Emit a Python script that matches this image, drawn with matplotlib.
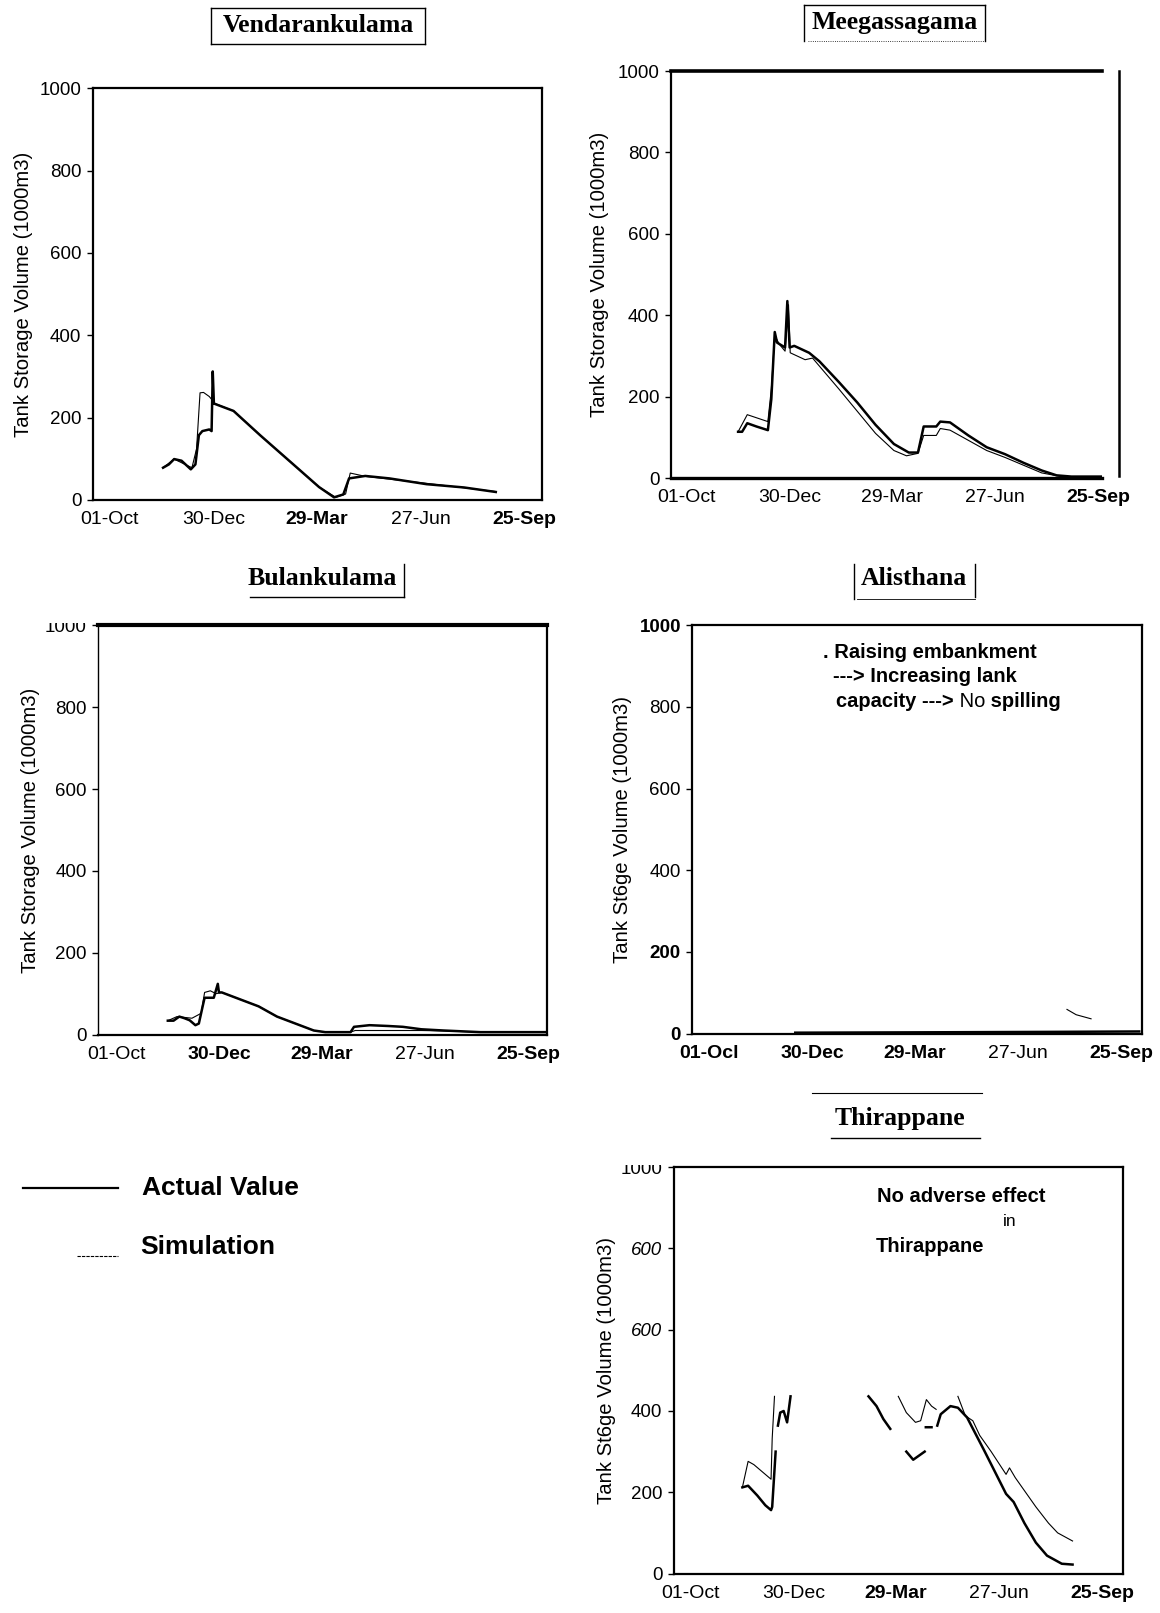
import numpy as np
import matplotlib.pyplot as plt
from matplotlib.lines import Line2D
from matplotlib.patches import Rectangle

plt.rcParams['font.family'] = ['Liberation Sans', 'DejaVu Sans']

W, H = 1160, 1613
nan = np.nan

date_ticks = [0, 90, 179, 269, 359]
date_labels = ['01-Oct', '30-Dec', '29-Mar', '27-Jun', '25-Sep']
vol_ticks = [0, 200, 400, 600, 800, 1000]

# Vendarankulama
vend_act_day = [46, 51, 55.6, 62, 70, 74, 77, 80, 86, 88, 89, 90, 107, 130, 162, 181, 194, 202, 207, 221, 242, 274, 306.5, 334]
vend_act_val = [78, 86, 99, 95, 74, 86, 157, 167, 171, 167, 312, 234, 216, 157, 78, 31, 6, 13, 52, 58, 52, 38, 30, 19]
vend_sim_day = [46, 55.6, 65, 71, 75, 78, 81, 86, 91, 107, 130, 162, 181, 195.5, 204, 208, 221, 274, 334]
vend_sim_val = [78, 99, 86, 78, 124, 260, 261, 251, 234, 216, 157, 78, 31, 6, 14, 65, 57, 40, 20]

# Meegassagama
meeg_act_day = [45, 48.5, 53, 61, 71, 74, 77, 79, 86, 88, 90, 94, 107, 116, 133, 149, 165, 181, 194, 202, 207, 218,
                221.5, 230, 246, 262, 278, 294, 310, 323, 336, 365]
meeg_act_val = [114, 114, 135, 127, 118, 194, 359, 333, 321, 435, 321, 325, 308, 287, 236, 186, 131, 84, 63, 63, 127, 127,
                139, 137, 105, 76, 59, 38, 19, 7, 4, 4]
meeg_sim_day = [45, 53, 71, 74, 77, 81, 86, 89, 90.5, 103.5, 110, 133, 165, 181, 192, 202, 207, 218, 221.5, 230, 262,
                278, 310, 327, 365]
meeg_sim_val = [114, 156, 139, 219, 350, 329, 312, 426, 308, 291, 295, 219, 110, 68, 55, 61, 105, 105, 122, 118, 68,
                51, 13, 4, 4]

# Bulankulama
bula_act_day = [45, 50, 55, 59.5, 64, 69, 72, 75, 77, 85, 88.5, 89.5, 92, 108, 124, 140, 156, 172, 182, 204, 207, 220.5,
                237, 249.5, 265.6, 285, 317, 375]
bula_act_val = [34, 34, 44, 40, 35, 23, 27, 65, 90, 90, 124, 103, 103, 86, 69, 44, 27, 10, 6, 6, 19, 23, 21, 19, 13, 10, 6, 6]
bula_sim_day = [45, 53, 66, 74, 77, 82, 87, 92, 108, 124, 140, 156, 172, 182, 204, 208, 220.5, 265.6, 285, 317, 375]
bula_sim_val = [34, 44, 40, 52, 103, 107, 100, 103, 86, 69, 44, 27, 10, 6, 6, 10, 10, 10, 9, 6, 6]

# Alisthana
alis_act_day = [75, 200, 300, 375]
alis_act_val = [2, 3, 4, 5]
alis_sim_day = [312, 320, 333]
alis_sim_val = [59, 46, 36]

# Thirappane (gaps where the scan lost the trace)
thir_act_day = [45, 50, 58, 65, 70, 71, 74, nan, 76, 78, 81, 84, 87, nan, 155, 162, 168, 174, nan, 188, 194, 204, nan,
                205, 210, nan, 215, 218, 226.5, 233, 241, 247.6, 255.7, 265, 275, 281.6, 291, 301, 310.7, 323.6, 333]
thir_act_val = [212, 216, 192, 168, 156, 164, 300, nan, 364, 396, 400, 372, 436, nan, 436, 412, 380, 356, nan, 300, 280, 300,
                nan, 360, 360, nan, 364, 392, 412, 408, 384, 348, 304, 252, 196, 176, 124, 76, 44, 24, 22]
thir_sim_day = [45, 50, 55, 65, 70, 71, 73, nan, 181, 188, 196, 200.5, 205.5, 210, 214, nan, 233, 239.5, 246, 252, 262,
                275, 278, 283, 291, 301, 312, 320, 333]
thir_sim_val = [212, 276, 268, 244, 232, 332, 436, nan, 436, 396, 372, 376, 428, 412, 404, nan, 436, 388, 376, 340, 300,
                244, 260, 236, 204, 164, 124, 100, 80]


def fx(px):
    return px / W


def fy(py):
    return 1 - py / H


def fline(fig, x0, y0, x1, y1, lw=1.0, ls='-'):
    fig.add_artist(Line2D([fx(x0), fx(x1)], [fy(y0), fy(y1)], transform=fig.transFigure,
                          color='black', lw=lw, ls=ls))


def make_panel(fig, box, act, sim, xlim, xlabels=date_labels, xweights=None,
               ylabels=None, yweights=None, ystyles=None, ylabel='Tank Storage Volume (1000m3)',
               ylab_x=-0.135, right_pos=None):
    left, top, right, bottom = box
    ax = fig.add_axes([fx(left), fy(bottom), (right - left) / W, (bottom - top) / H])
    # moving a spine resets the ticks, so do it before the labels
    if right_pos is not None:
        ax.spines['right'].set_position(('axes', right_pos))
    ax.plot(sim[0], sim[1], color='black', lw=0.8)
    ax.plot(act[0], act[1], color='black', lw=1.8)
    ax.set_xlim(*xlim)
    ax.set_ylim(0, 1000)
    ax.set_xticks(date_ticks)
    ax.set_xticklabels(xlabels, fontsize=14)
    ax.set_yticks(vol_ticks)
    ax.set_yticklabels(ylabels if ylabels else [str(v) for v in vol_ticks], fontsize=13.5)
    ax.tick_params(axis='x', length=0, pad=8)
    ax.tick_params(axis='y', length=4, width=1, pad=4)
    for t, w in zip(ax.get_xticklabels(), xweights or ['normal'] * 5):
        t.set_fontweight(w)
    for t, w in zip(ax.get_yticklabels(), yweights or ['normal'] * 6):
        t.set_fontweight(w)
    for t, s in zip(ax.get_yticklabels(), ystyles or ['normal'] * 6):
        t.set_fontstyle(s)
    for sp in ax.spines.values():
        sp.set_linewidth(1.6)
    ax.set_ylabel(ylabel, fontsize=14.6)
    ax.yaxis.set_label_coords(ylab_x, 0.5)
    return ax


fig = plt.figure(figsize=(W / 100, H / 100), dpi=100)
title_kw = dict(family='Liberation Serif', weight='bold', fontsize=18.5, ha='center', va='center')

# Vendarankulama
ax1 = make_panel(fig, (92.6, 88.4, 542, 499.8), (vend_act_day, vend_act_val), (vend_sim_day, vend_sim_val),
                 (-15, 374), xweights=['normal', 'normal', 'bold', 'normal', 'bold'], ylab_x=-0.133)
fig.text(fx(318), fy(26), 'Vendarankulama', **title_kw)
fline(fig, 211, 8, 425, 8)
fline(fig, 211, 44, 425, 44)
fline(fig, 211, 8, 211, 44)
fline(fig, 425, 8, 425, 44)

# Meegassagama
ax2 = make_panel(fig, (670.5, 71, 1102.4, 478.2), (meeg_act_day, meeg_act_val), (meeg_sim_day, meeg_sim_val),
                 (-14, 363), xweights=['normal'] * 4 + ['bold'], ylab_x=-0.142, right_pos=1.038)
ax2.spines['top'].set_linewidth(2.6)
ax2.spines['bottom'].set_linewidth(2.4)
ax2.spines['right'].set_bounds(5, 1000)
ax2.spines['right'].set_linewidth(1.8)
fig.text(fx(894.7), fy(23), 'Meegassagama', **title_kw)
fline(fig, 804, 5, 985, 5)
fline(fig, 804, 5, 804, 41)
fline(fig, 985, 5, 985, 41)
fline(fig, 808, 41, 985, 41, lw=0.6, ls=':')

# Bulankulama
ax3 = make_panel(fig, (97.7, 625.3, 547.1, 1034.6), (bula_act_day, bula_act_val), (bula_sim_day, bula_sim_val),
                 (-16, 375), xweights=['normal', 'bold', 'bold', 'normal', 'bold'], ylab_x=-0.128)
ax3.spines['top'].set_linewidth(3)
ax3.spines['left'].set_linewidth(1)
fig.add_artist(Rectangle((fx(35), fy(623)), (94 - 35) / W, 20 / H, transform=fig.transFigure,
                         facecolor='white', edgecolor='none', zorder=5))
fig.text(fx(322), fy(579), 'Bulankulama', **title_kw)
fline(fig, 250, 596.5, 404, 596.5)
fline(fig, 404, 563.6, 404, 596.5)

# Alisthana
ax4 = make_panel(fig, (692.1, 625.3, 1141.5, 1033.5), (alis_act_day, alis_act_val), (alis_sim_day, alis_sim_val),
                 (-15, 377), xlabels=['01-Ocl', '30-Dec', '29-Mar', '27-Jun', '25-Sep'],
                 xweights=['bold', 'bold', 'bold', 'normal', 'bold'],
                 yweights=['bold', 'bold', 'normal', 'normal', 'normal', 'bold'],
                 ylabel='Tank St6ge Volume (1000m3)', ylab_x=-0.133)
fig.text(fx(914), fy(579), 'Alisthana', **title_kw)
fline(fig, 853.6, 563.6, 853.6, 598.5)
fline(fig, 975, 563.6, 975, 596.5)
fline(fig, 857, 598.5, 975, 598.5, lw=0.6)
ann_kw = dict(fontsize=14.5, va='center', ha='left')
fig.text(fx(822.7), fy(652), '. Raising embankment', weight='bold', **ann_kw)
fig.text(fx(833), fy(677), '---> Increasing lank', weight='bold', **ann_kw)
t1 = fig.text(fx(836), fy(701.5), 'capacity --->', weight='bold', **ann_kw)
t2 = ax4.annotate(' No', xy=(1, 0.5), xycoords=t1, va='center', ha='left', fontsize=14.5)
ax4.annotate(' spilling', xy=(1, 0.5), xycoords=t2, va='center', ha='left', fontsize=14.5, weight='bold')

# Thirappane
ax5 = make_panel(fig, (673.6, 1167.2, 1123, 1573.5), (thir_act_day, thir_act_val), (thir_sim_day, thir_sim_val),
                 (-15, 377), xweights=['normal', 'normal', 'bold', 'normal', 'bold'],
                 ylabels=['0', '200', '400', '600', '600', '1000'],
                 ystyles=['normal', 'normal', 'normal', 'italic', 'italic', 'normal'],
                 ylabel='Tank St6ge Volume (1000m3)', ylab_x=-0.128)
fig.add_artist(Rectangle((fx(610), fy(1165)), (670 - 610) / W, 20 / H, transform=fig.transFigure,
                         facecolor='white', edgecolor='none', zorder=5))
fig.text(fx(900), fy(1119), 'Thirappane', **title_kw)
fline(fig, 812, 1093, 982, 1093, lw=0.8)
fline(fig, 831, 1138.4, 980, 1138.4)
fig.text(fx(877), fy(1197), 'No adverse effect', weight='bold', **ann_kw)
fig.text(fx(1003), fy(1221), 'in', fontsize=12.5, va='center', ha='left')
fig.text(fx(876), fy(1246), 'Thirappane', weight='bold', **ann_kw)

# legend
fline(fig, 22.6, 1188, 118.3, 1188, lw=1.6)
fig.text(fx(142), fy(1188), 'Actual Value', weight='bold', fontsize=19, va='center', ha='left')
fline(fig, 77, 1255.6, 118.3, 1255.6, lw=0.8, ls=(0, (3, 1)))
fig.text(fx(140), fy(1247.5), 'Simulation', weight='bold', fontsize=19, va='center', ha='left')

fig.savefig('out.png', dpi=100)
